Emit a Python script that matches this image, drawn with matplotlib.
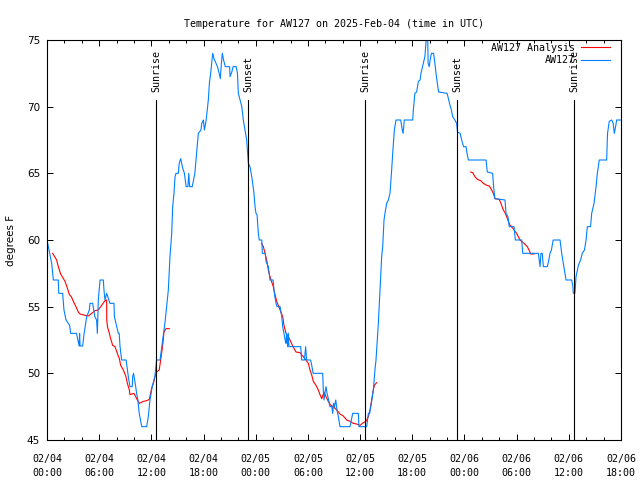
import matplotlib
matplotlib.use("Agg")

import matplotlib.pyplot as plt
import numpy as np

# hours since 2025-02-04 00:00 UTC, temperature in degrees F
obs_hours = [
    0.0, 0.54, 0.73, 1.3, 1.35, 1.8, 1.95, 2.19, 2.6, 2.72, 3.4, 3.55, 3.7, 3.75, 3.8, 4.1,
    4.25, 4.56, 4.87, 4.94, 5.25, 5.5, 5.7, 5.79, 5.9, 6.1, 6.48, 6.55, 6.67, 6.86, 7.24, 7.7,
    7.75, 8.2, 8.3, 8.4, 8.58, 9.1, 9.2, 9.35, 9.54, 9.8, 9.85, 9.95, 10.2, 10.3, 10.45, 10.6,
    10.9, 11.46, 11.65, 11.84, 12.1, 12.4, 12.6, 13.0, 13.2, 13.4, 13.6, 13.76, 13.95, 14.14,
    14.34, 14.45, 14.6, 14.72, 14.83, 15.1, 15.2, 15.37, 15.6, 15.8, 16.0, 16.2, 16.3, 16.4,
    16.7, 17.0, 17.2, 17.4, 17.7, 17.8, 17.98, 18.1, 18.3, 18.55, 18.67, 18.82, 19.05, 19.2,
    19.43, 19.6, 19.8, 19.93, 20.05, 20.16, 20.3, 20.5, 21.0, 21.05, 21.25, 21.4, 21.75, 21.9,
    22.0, 22.2, 22.4, 22.57, 22.77, 22.96, 23.15, 23.34, 23.54, 23.65, 23.8, 23.92, 24.03,
    24.15, 24.3, 24.41, 24.7, 24.76, 25.1, 25.18, 25.45, 25.64, 26.0, 26.1, 26.2, 26.33,
    26.45, 26.8, 26.99, 27.1, 27.25, 27.38, 27.48, 27.55, 27.67, 27.75, 27.82, 29.17, 29.28,
    29.6, 29.74, 29.85, 30.3, 30.4, 30.6, 31.7, 31.77, 31.85, 31.95, 32.08, 32.2, 32.3, 32.54,
    32.75, 32.85, 32.95, 33.05, 33.2, 33.35, 33.5, 33.69, 34.84, 35.15, 35.8, 35.87, 36.76,
    36.95, 37.1, 37.33, 37.52, 37.71, 37.83, 37.98, 38.1, 38.29, 38.48, 38.6, 38.75, 38.86,
    39.06, 39.25, 39.44, 39.63, 39.75, 39.94, 40.13, 40.67, 40.85, 40.95, 41.08, 42.05, 42.12,
    42.3, 42.5, 42.7, 42.9, 43.0, 43.27, 43.45, 43.6, 43.78, 43.82, 43.95, 44.05, 44.2, 44.45,
    44.6, 44.73, 44.88, 45.03, 46.0, 46.1, 46.34, 46.5, 46.65, 46.9, 47.1, 47.2, 47.5, 47.68,
    47.9, 48.18, 48.3, 48.45, 50.48, 50.63, 51.24, 51.35, 51.5, 52.66, 52.78, 53.0, 53.15,
    53.7, 53.85, 54.58, 54.7, 56.5, 56.69, 56.8, 56.95, 57.07, 57.53, 57.7, 57.84, 58.0, 58.2,
    58.99, 59.18, 59.37, 59.55, 59.68, 60.33, 60.45, 60.52, 60.7, 60.83, 61.1, 61.35, 61.55,
    61.8, 61.98, 62.13, 62.5, 62.63, 62.9, 63.13, 63.28, 63.5, 64.35, 64.45, 64.65, 64.93,
    65.1, 65.23, 65.38, 65.5, 66.0,
]
obs_temp = [
    60.0, 58.25, 57.0, 57.0, 56.0, 56.0, 54.75, 54.0, 53.6, 53.0, 53.0, 52.5, 52.05, 53.0, 52.05, 52.05,
    52.9, 54.25, 54.75, 55.25, 55.25, 54.25, 54.0, 53.0, 55.5, 57.0, 57.0, 56.25, 55.5, 56.0, 55.25, 55.25,
    54.25, 53.0, 53.0, 52.0, 51.0, 51.0, 50.5, 49.75, 49.0, 49.0, 49.75, 50.0, 49.0, 48.5, 48.0, 47.0,
    46.0, 46.0, 46.75, 48.0, 49.0, 49.75, 51.0, 51.0, 52.0, 53.0, 54.0, 55.0, 56.25, 58.75,
    60.5, 62.5, 63.5, 64.75, 65.0, 65.0, 65.75, 66.1, 65.4, 65.0, 64.0, 64.0, 65.0, 64.0,
    64.0, 65.0, 66.5, 68.0, 68.25, 68.75, 69.0, 68.25, 69.0, 70.5, 71.75, 72.5, 74.0, 73.6,
    73.25, 73.0, 72.5, 72.1, 73.25, 74.0, 73.5, 73.0, 73.0, 72.25, 72.6, 73.0, 73.0, 72.5,
    71.0, 70.5, 70.0, 69.0, 68.25, 67.5, 65.75, 65.5, 64.75, 64.25, 63.5, 62.5, 62.0,
    61.9, 60.5, 60.0, 60.0, 59.0, 59.0, 58.4, 58.0, 57.0, 57.0, 56.25, 55.75, 55.25,
    55.0, 55.0, 54.25, 53.5, 53.0, 52.5, 52.25, 53.0, 52.0, 53.0, 52.0, 52.0, 51.0,
    51.0, 52.0, 51.0, 51.0, 50.75, 50.0, 50.0, 48.75, 48.0, 48.5, 49.0, 48.5, 48.25, 47.5,
    47.5, 47.0, 47.75, 47.5, 48.0, 47.25, 46.75, 46.0, 46.0, 47.0, 47.0, 46.0, 46.0,
    47.0, 47.0, 47.9, 48.75, 50.25, 51.0, 52.5, 53.75, 56.25, 58.75, 59.5, 61.5, 62.0,
    62.75, 63.0, 63.5, 65.25, 66.5, 68.25, 69.0, 69.0, 68.25, 68.0, 69.0, 69.0, 69.75,
    71.0, 71.1, 71.9, 72.0, 72.5, 73.25, 73.75, 75.0, 75.0, 73.25, 73.0, 73.5, 74.0, 74.0,
    73.25, 72.5, 71.75, 71.1, 71.0, 70.75, 70.1, 69.75, 69.25, 69.0, 68.75, 68.1, 68.0, 67.5,
    67.0, 67.0, 66.5, 66.0, 66.0, 65.1, 65.0, 64.0, 63.1, 63.0, 62.0, 61.75, 61.0,
    61.0, 60.0, 60.0, 59.0, 59.0, 58.0, 59.0, 59.0, 58.0, 58.0, 58.5, 59.0, 59.25, 60.0,
    60.0, 59.0, 58.25, 57.5, 57.0, 57.0, 56.6, 56.0, 56.0, 57.25, 58.1, 58.5, 59.0,
    59.25, 60.0, 61.0, 61.0, 62.0, 62.75, 64.0, 65.0, 66.0, 66.0, 68.0, 68.9, 69.0,
    68.75, 68.0, 68.5, 69.0, 69.0,
]

# analysis series, gaps marked with nan
ana_hours = [
    0.65, 1.11, 1.3, 1.57, 2.07, 2.34, 2.57, 2.8, 3.03, 3.33, 3.6, 3.8, 4.37, 4.75, 5.13, 5.52,
    5.9, 6.28, 6.67, 6.86, 6.87, 6.95, 7.17, 7.32, 7.55, 7.82, 8.09, 8.32, 8.47, 8.78, 9.08,
    9.24, 9.47, 9.54, 10.0, 10.31, 10.62, 11.08, 11.46, 11.77, 12.04, 12.23, 12.42, 12.61,
    12.9, 13.07, 13.3, 13.45, 13.68, 14.06, np.nan,
    24.68, 24.88, 25.07, 25.26, 25.45, 25.64, 26.02, 26.22, 26.41, 26.71, 27.1, 27.25, 27.48,
    27.75, 27.94, 28.25, 28.63, 29.09, 29.47, 30.05, 30.24, 30.43, 30.62, 30.93, 31.2, 31.39,
    31.59, 31.85, 32.08, 32.34, 32.62, 32.92, 33.31, 33.69, 34.07, 34.46, 34.84, 35.22, 35.6,
    35.99, 36.37, 36.68, 36.95, 37.14, 37.33, 37.52, 37.64, 37.9, np.nan,
    48.72, 48.95, 49.2, 49.48, 49.87, 50.17, 50.56, 50.86, 51.13, 51.32, 51.51, 52.0, 52.28,
    52.47, 52.66, 52.86, 53.05, 53.24, 53.55, 53.7, 54.0, 54.2, 54.39, 54.58, 54.85, 55.08,
    55.23, 55.46, 55.62, 56.0,
]
ana_temp = [
    59.0, 58.5, 58.0, 57.45, 56.9, 56.4, 55.9, 55.75, 55.4, 55.0, 54.6, 54.45, 54.35, 54.3, 54.5, 54.7,
    54.75, 55.1, 55.45, 55.5, 54.0, 53.5, 53.0, 52.6, 52.1, 52.0, 51.5, 51.1, 50.6, 50.25, 49.75,
    49.25, 48.75, 48.4, 48.5, 48.1, 47.75, 47.9, 47.95, 48.05, 48.9, 49.25, 49.75, 50.1,
    50.25, 51.0, 52.1, 53.1, 53.35, 53.35, np.nan,
    59.75, 59.5, 59.0, 58.5, 57.75, 57.25, 56.5, 55.9, 55.4, 54.9, 54.25, 53.6, 53.0,
    52.75, 52.5, 52.05, 51.6, 51.55, 51.25, 50.75, 50.25, 49.9, 49.4, 49.1, 48.75, 48.4,
    48.1, 48.6, 48.25, 47.9, 47.6, 47.5, 47.25, 46.95, 46.8, 46.5, 46.4, 46.25, 46.2,
    46.1, 46.3, 46.4, 46.75, 47.25, 48.0, 48.75, 49.1, 49.3, np.nan,
    65.1, 65.05, 64.75, 64.55, 64.45, 64.25, 64.1, 64.05, 63.75, 63.5, 63.1, 63.05, 62.6,
    62.25, 62.05, 61.75, 61.4, 61.1, 60.9, 60.75, 60.5, 60.25, 60.0, 59.9, 59.75, 59.6,
    59.5, 59.2, 58.95, 58.95,
]

sun_hours = [12.53, 23.11, 36.56, 47.14, 60.6]
sun_names = ["Sunrise", "Sunset", "Sunrise", "Sunset", "Sunrise"]

tick_hours = list(range(0, 67, 6))
tick_labels = ["02/04\n00:00", "02/04\n06:00", "02/04\n12:00", "02/04\n18:00",
               "02/05\n00:00", "02/05\n06:00", "02/05\n12:00", "02/05\n18:00",
               "02/06\n00:00", "02/06\n06:00", "02/06\n12:00", "02/06\n18:00"]

MONO = "DejaVu Sans Mono"
FS = 7.2


def main():
    fig = plt.figure(figsize=(6.4, 4.8), dpi=100)
    ax = fig.add_axes([47 / 640, 40 / 480, 574 / 640, 400 / 480])

    ax.plot(ana_hours, ana_temp, color="#ff0000", lw=0.8, label="AW127 Analysis")
    ax.plot(obs_hours, obs_temp, color="#0080ff", lw=0.8, label="AW127")

    # sunrise / sunset markers
    for h, name in zip(sun_hours, sun_names):
        ax.plot([h, h], [45, 70.5], color="black", lw=0.8)
        ax.text(h, 71.1, name, rotation=90, ha="center", va="bottom",
                family=MONO, fontsize=FS)

    ax.set_xlim(0, 66)
    ax.set_ylim(45, 75)
    ax.set_xticks(tick_hours)
    ax.set_xticklabels(tick_labels, family=MONO, fontsize=FS, linespacing=1.5)
    ax.set_xticks(np.arange(0, 67, 2), minor=True)
    ax.set_yticks(np.arange(45, 76, 5))
    ax.tick_params(which="both", direction="in", top=True, right=True, width=0.7)
    ax.tick_params(which="major", length=4.5)
    ax.tick_params(which="minor", length=2.5)
    ax.tick_params(axis="x", pad=10)
    ax.tick_params(axis="y", labelsize=7.5, pad=5)
    for sp in ax.spines.values():
        sp.set_linewidth(0.8)

    ax.set_ylabel("degrees F", fontsize=7.5, labelpad=8)
    ax.set_title("Temperature for AW127 on 2025-Feb-04 (time in UTC)",
                 family=MONO, fontsize=FS, pad=9)

    ax.legend(loc="upper right", bbox_to_anchor=(0.981, 0.9925), markerfirst=False,
              frameon=False, prop={"family": MONO, "size": FS}, handlelength=2.9,
              handletextpad=0.6, labelspacing=0.25, borderpad=0, borderaxespad=0)

    fig.savefig("out.png", dpi=100)
    plt.close(fig)


if __name__ == "__main__":
    main()
